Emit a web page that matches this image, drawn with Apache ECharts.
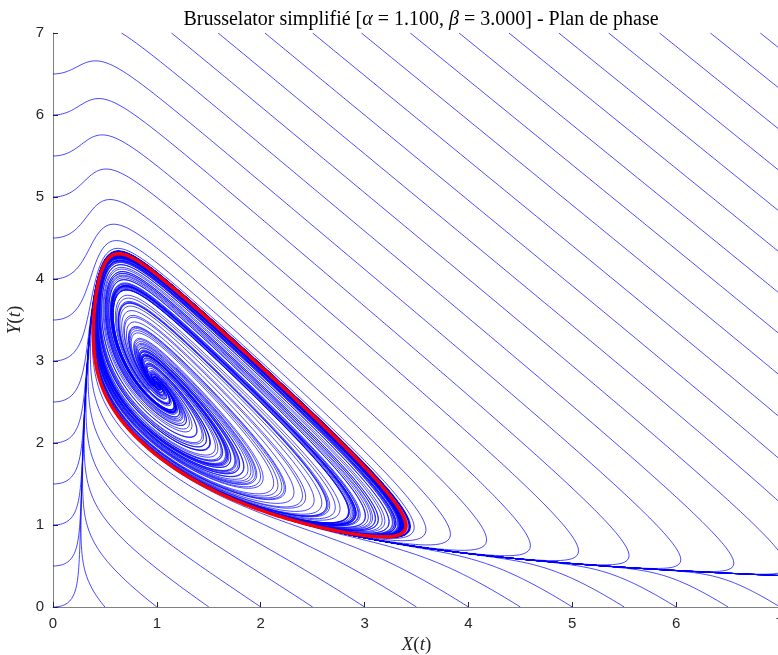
<!DOCTYPE html>
<html>
<head>
<meta charset="utf-8">
<script src="https://cdn.jsdelivr.net/npm/echarts@6/dist/echarts.min.js"></script>
<style>
  html, body { margin: 0; padding: 0; background: #fff; overflow: hidden; }
  #chart { width: 778px; height: 655px; }
</style>
</head>
<body>
<div id="chart"></div>
<script>
// Simplified Brusselator: dX/dt = 1 - (b+1)X + a X^2 Y,  dY/dt = bX - a X^2 Y
const ALPHA = 1.1;
const BETA = 3.0;

// Initial conditions of the plotted trajectories
const leftStartY = [0, 0.5, 1, 1.5, 2, 2.5, 3, 3.5, 4, 4.5, 5, 5.5, 6, 6.5];
const bottomStartX = [0.5, 1, 1.5, 2, 2.5, 3, 3.5, 4, 4.5, 5, 5.5, 6, 6.5, 7];
const topEntryX = [0.66, 1.14, 1.59, 2.04, 2.50, 2.97, 3.44, 3.91, 4.39, 4.87, 5.35, 5.84, 6.33, 6.81];
const innerStarts = [
  [1.001, 2.731], [0.998, 2.728], [1.004, 2.725], [0.995, 2.736], [1.008, 2.733],
  [0.992, 2.722], [1.012, 2.740], [0.988, 2.745], [1.016, 2.715], [0.985, 2.710],
  [1.020, 2.750], [0.980, 2.760], [1.025, 2.700], [0.975, 2.700], [1.030, 2.765],
  [0.970, 2.780], [1.035, 2.680], [0.965, 2.690], [1.040, 2.785], [0.960, 2.800],
  [1.050, 2.660], [0.950, 2.670], [1.060, 2.800], [0.940, 2.830], [1.070, 2.630],
  [0.930, 2.650], [1.080, 2.830], [0.920, 2.860], [1.090, 2.600], [0.910, 2.620],
  [1.100, 2.860], [0.900, 2.900], [1.120, 2.560], [0.880, 2.600], [1.140, 2.890],
  [0.860, 2.950], [1.160, 2.500], [0.850, 2.560], [1.180, 2.920], [0.830, 3.000],
  [1.01, 2.74], [0.99, 2.72], [1.02, 2.71], [0.98, 2.75], [1.03, 2.76],
  [0.96, 2.70], [1.05, 2.73], [1.00, 2.79], [1.00, 2.66], [0.94, 2.76],
  [1.07, 2.70], [0.92, 2.80], [1.09, 2.66], [0.90, 2.86], [1.12, 2.62],
  [0.87, 2.92], [1.16, 2.56], [0.84, 3.00], [1.20, 2.48], [0.80, 3.10],
  [1.0005, 2.7275], [0.9995, 2.7270], [1.0010, 2.7265], [0.9990, 2.7280], [1.0015, 2.7285],
  [0.9985, 2.7260], [1.0020, 2.7250], [0.9980, 2.7295], [1.0025, 2.7300], [0.9975, 2.7245],
  [1.0030, 2.7240], [0.9970, 2.7310], [1.0040, 2.7320], [0.9960, 2.7225], [1.0050, 2.7210],
  [0.9950, 2.7340], [1.0060, 2.7350], [0.9940, 2.7195], [1.0070, 2.7180], [0.9930, 2.7370]
];
const xTicks = [0, 1, 2, 3, 4, 5, 6, 7];
const yTicks = [0, 1, 2, 3, 4, 5, 6, 7];

function field(x, y) {
  const q = ALPHA * x * x * y;
  return [1 - (BETA + 1) * x + q, BETA * x - q];
}

// RK4 with a step chosen so each step moves about `ds` in the phase plane
function integrate(x0, y0, tEnd, ds) {
  const pts = [[x0, y0]];
  let x = x0, y = y0, t = 0;
  while (t < tEnd) {
    const f = field(x, y);
    const sp = Math.hypot(f[0], f[1]) + 1e-9;
    const h = Math.min(0.02, ds / sp);
    const k1 = f;
    const k2 = field(x + 0.5 * h * k1[0], y + 0.5 * h * k1[1]);
    const k3 = field(x + 0.5 * h * k2[0], y + 0.5 * h * k2[1]);
    const k4 = field(x + h * k3[0], y + h * k3[1]);
    x += h / 6 * (k1[0] + 2 * k2[0] + 2 * k3[0] + k4[0]);
    y += h / 6 * (k1[1] + 2 * k2[1] + 2 * k3[1] + k4[1]);
    t += h;
    pts.push([x, y]);
    if (x > 60 || y > 60 || !isFinite(x) || !isFinite(y)) break;
  }
  return pts;
}

// Closed orbit: settle onto the attractor, then trace one revolution
function limitCycle() {
  const warm = integrate(1.0, 4.0, 120, 0.01);
  const p0 = warm[warm.length - 1];
  const pts = [p0];
  let x = p0[0], y = p0[1], left = false;
  for (let i = 0; i < 20000; i++) {
    const seg = integrate(x, y, 0.0001, 0.004);
    const p = seg[seg.length - 1];
    x = p[0]; y = p[1];
    pts.push([x, y]);
    const d = Math.hypot(x - p0[0], y - p0[1]);
    if (d > 0.5) left = true;
    if (left && d < 0.01) break;
  }
  pts.push(p0);
  return pts;
}

const trajectories = [];
leftStartY.forEach(y0 => trajectories.push(integrate(0, y0, 30, 0.008)));
bottomStartX.forEach(x0 => trajectories.push(integrate(x0, 0, 30, 0.008)));
topEntryX.forEach(x0 => trajectories.push(integrate(x0, 7, 30, 0.008)));
innerStarts.forEach(p => trajectories.push(integrate(p[0], p[1], 26, 0.008)));
const cycle = limitCycle();

const series = trajectories.map(d => ({
  type: 'line', data: d, showSymbol: false, silent: true, clip: true,
  lineStyle: { color: '#0000ff', width: 0.85, opacity: 0.85 }, z: 2
}));
series.push({
  type: 'line', data: cycle, showSymbol: false, silent: true, clip: true,
  lineStyle: { color: '#ff0000', width: 3.4 }, z: 5
});

const serif = 'Liberation Serif, serif';
const axisCommon = {
  type: 'value', min: 0, max: 7, interval: 1,
  axisLine: { show: true, lineStyle: { color: '#808080', width: 1 } },
  axisTick: { show: true, inside: true, length: 5, lineStyle: { color: '#262626' } },
  splitLine: { show: false },
  axisLabel: { color: '#262626', fontFamily: 'Liberation Sans, Arial, sans-serif', fontSize: 15 }
};
const nameStyle = {
  fontFamily: serif, fontSize: 19, color: '#262626',
  rich: { i: { fontFamily: serif, fontStyle: 'italic', fontSize: 19, color: '#262626' },
          u: { fontFamily: serif, fontSize: 19, color: '#262626' } }
};

const chart = echarts.init(document.getElementById('chart'), null, { renderer: 'canvas' });
chart.setOption({
  animation: false,
  backgroundColor: '#ffffff',
  title: {
    text: 'Brusselator simplifié [{m|α} = 1.100, {m|β} = 3.000] - Plan de phase',
    left: 416, top: 5, textAlign: 'center',
    textStyle: {
      fontFamily: serif, fontSize: 20, fontWeight: 'normal', color: '#000',
      rich: { m: { fontFamily: serif, fontStyle: 'italic', fontSize: 20, color: '#000' } }
    }
  },
  grid: { left: 53, right: -2, top: 33, bottom: 48, containLabel: false, outerBoundsMode: 'none' },
  xAxis: Object.assign({}, axisCommon, {
    name: '{i|X}{u|(}{i|t}{u|)}', nameLocation: 'middle', nameGap: 27,
    nameTextStyle: nameStyle,
    axisLabel: Object.assign({}, axisCommon.axisLabel, { margin: 9, formatter: v => xTicks.includes(v) ? String(v) : '' })
  }),
  yAxis: Object.assign({}, axisCommon, {
    name: '{i|Y}{u|(}{i|t}{u|)}', nameLocation: 'middle', nameGap: 26, nameRotate: 90,
    nameTextStyle: nameStyle,
    axisLabel: Object.assign({}, axisCommon.axisLabel, { margin: 9, formatter: v => yTicks.includes(v) ? String(v) : '' })
  }),
  series: series
});
</script>
</body>
</html>
